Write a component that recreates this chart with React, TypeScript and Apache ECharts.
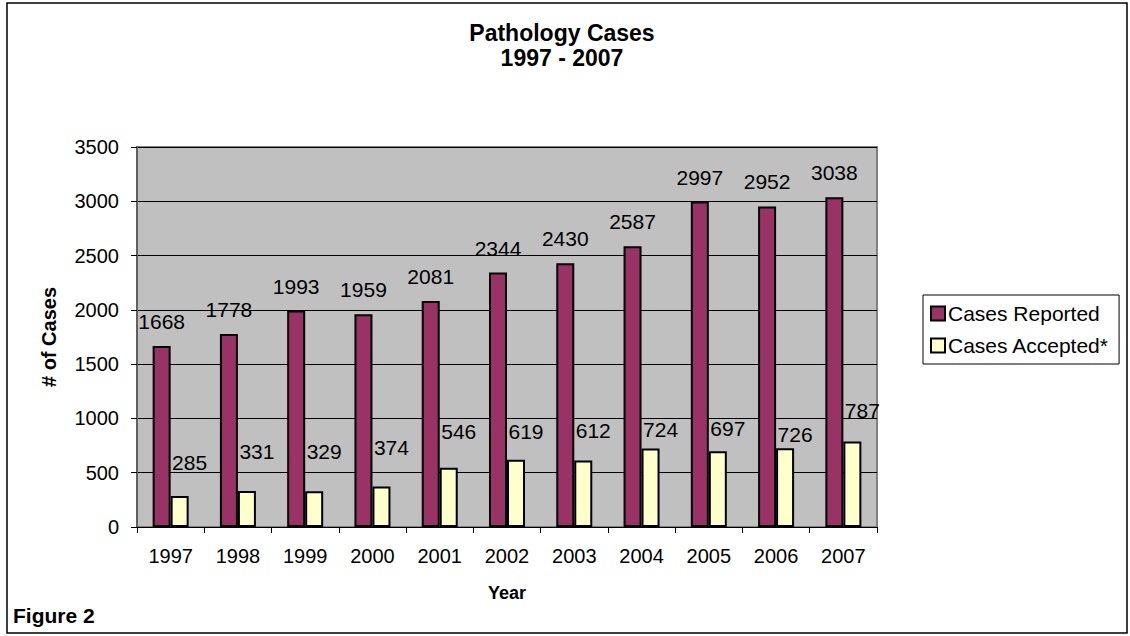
import React, { useEffect, useRef } from "react";
import * as echarts from "echarts";

const years = ["1997", "1998", "1999", "2000", "2001", "2002", "2003", "2004", "2005", "2006", "2007"];
const casesReported = [1668, 1778, 1993, 1959, 2081, 2344, 2430, 2587, 2997, 2952, 3038];
const casesAccepted = [285, 331, 329, 374, 546, 619, 612, 724, 697, 726, 787];
// vertical gap (px) between bar top and label centre for the accepted series, as placed in the original
const acceptedLabelGap = [33, 39, 39, 38, 36, 28, 30, 18, 22, 13, 31];

const FONT = "'Liberation Sans', Arial, sans-serif";

export default function App() {
  const ref = useRef<HTMLDivElement>(null);

  useEffect(() => {
    if (!ref.current) return;
    const chart = echarts.init(ref.current, undefined, { renderer: "svg" });
    chart.setOption({
      animation: false,
      backgroundColor: "#ffffff",
      textStyle: { fontFamily: FONT },
      graphic: [
        {
          type: "rect",
          shape: { x: 7, y: 3, width: 1120, height: 630 },
          style: { fill: "none", stroke: "#000", lineWidth: 1.5 },
          silent: true,
        },
        {
          type: "text",
          x: 562,
          y: 33,
          style: {
            text: "Pathology Cases",
            font: `bold 23px ${FONT}`,
            fill: "#000",
            textAlign: "center",
            textVerticalAlign: "middle",
          },
        },
        {
          type: "text",
          x: 562,
          y: 58,
          style: {
            text: "1997 - 2007",
            font: `bold 23px ${FONT}`,
            fill: "#000",
            textAlign: "center",
            textVerticalAlign: "middle",
          },
        },
        {
          type: "text",
          x: 13,
          y: 615,
          style: {
            text: "Figure 2",
            font: `bold 21px ${FONT}`,
            fill: "#000",
            textAlign: "left",
            textVerticalAlign: "middle",
          },
        },
      ],
      legend: {
        orient: "vertical",
        left: 923,
        top: 295,
        padding: [8, 10, 8, 7],
        itemGap: 11,
        itemWidth: 14,
        itemHeight: 14,
        borderColor: "#000",
        borderWidth: 1,
        icon: "rect",
        textStyle: { fontSize: 21, color: "#000", fontFamily: FONT, padding: [0, 0, 0, -2] },
        data: ["Cases Reported", "Cases Accepted*"],
      },
      grid: {
        left: 137,
        right: 253,
        top: 147,
        bottom: 109,
        show: true,
        backgroundColor: "#C0C0C0",
        borderColor: "#808080",
        borderWidth: 2,
      },
      xAxis: {
        type: "category",
        data: years,
        boundaryGap: true,
        name: "Year",
        nameLocation: "middle",
        nameGap: 57,
        nameTextStyle: { fontSize: 18, fontWeight: "bold", color: "#000", fontFamily: FONT },
        axisLine: { show: true, lineStyle: { color: "#000", width: 1 } },
        axisTick: { show: true, alignWithLabel: false, length: 6, lineStyle: { color: "#000" } },
        axisLabel: { fontSize: 20, color: "#000", margin: 19, fontFamily: FONT },
      },
      yAxis: {
        type: "value",
        min: 0,
        max: 3500,
        interval: 500,
        name: "# of Cases",
        nameLocation: "middle",
        nameGap: 78,
        nameRotate: 90,
        nameTextStyle: { fontSize: 20, fontWeight: "bold", color: "#000", fontFamily: FONT },
        axisLine: { show: true, lineStyle: { color: "#606060", width: 2 } },
        axisTick: { show: true, length: 6, lineStyle: { color: "#000" } },
        axisLabel: {
          fontSize: 20,
          color: "#000",
          margin: 18,
          fontFamily: FONT,
          formatter: (v: number) => String(v),
        },
        splitLine: { show: true, lineStyle: { color: "#000", width: 1 } },
      },
      series: [
        {
          name: "Cases Reported",
          type: "bar",
          data: casesReported,
          barWidth: 18,
          barGap: "0%",
          itemStyle: { color: "#993366", borderColor: "#000", borderWidth: 2 },
          label: {
            show: true,
            position: "top",
            distance: 14,
            fontSize: 21,
            color: "#000",
            fontFamily: FONT,
          },
        },
        {
          name: "Cases Accepted*",
          type: "bar",
          data: casesAccepted.map((v, i) => ({
            value: v,
            label: { offset: [10, -(acceptedLabelGap[i] - 10)] },
          })),
          barWidth: 18,
          barGap: "0%",
          itemStyle: { color: "#FFFFCC", borderColor: "#000", borderWidth: 2 },
          label: {
            show: true,
            position: "top",
            distance: 0,
            fontSize: 21,
            color: "#000",
            fontFamily: FONT,
          },
        },
      ],
    });
    return () => chart.dispose();
  }, []);

  return (
    <div
      ref={ref}
      style={{ position: "fixed", left: 0, top: 0, width: 1130, height: 636 }}
    />
  );
}
